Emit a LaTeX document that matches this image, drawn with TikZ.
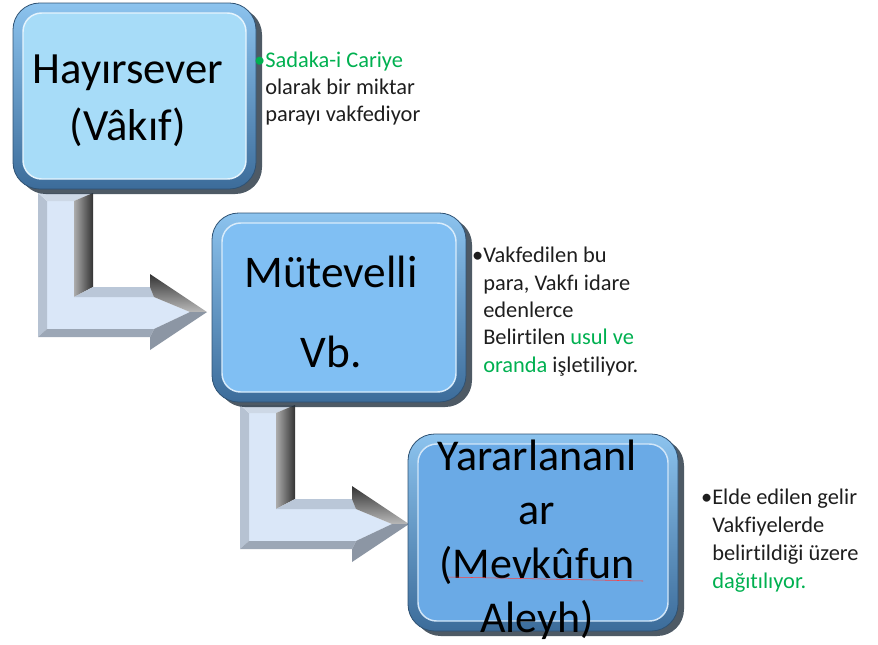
\documentclass[tikz,border=0pt]{standalone}
\usepackage{fontspec}
\setmainfont{Carlito}[Ligatures=NoCommon]
\usepackage{xcolor}
\usetikzlibrary{positioning}

\definecolor{notegreen}{HTML}{00B050}
\definecolor{notetext}{HTML}{1E1E1E}
\definecolor{shadowc}{HTML}{22313F}
\definecolor{rimtop}{HTML}{8CC3EE}
\definecolor{rimbot}{HTML}{3C6C9A}
\definecolor{rimline}{HTML}{2F5273}
\definecolor{faceA}{HTML}{A7DCF8}
\definecolor{faceB}{HTML}{80BFF3}
\definecolor{faceC}{HTML}{6AAAE6}
\definecolor{arrface}{HTML}{DAE7F8}
\definecolor{arrleft}{HTML}{B6C2D2}
\definecolor{arrtop}{HTML}{CDD8E6}
\definecolor{arrarm}{HTML}{BAC7D8}
\definecolor{arrlow}{HTML}{8C96A4}
\definecolor{arrbot}{HTML}{9CA7B6}

% one bevelled box: face colour, corner, corner
\newcommand\bevelbox[5]{%
  \fill[boxshadow] (#2+6,#3+5) rectangle (#4+6,#5+5);
  \shade[boxrim] (#2,#3) rectangle (#4,#5);
  \draw[boxface=#1] (#2+10,#3+10) rectangle (#4-10,#5-10);
}
% one bent arrow, top left corner of the stem at (#1,#2)
\newcommand\bentarrow[2]{%
  \begin{scope}[shift={(#1,#2)}]
    \fill[arrface] (9,8) -- (36,8) -- (36,104) -- (116,104) -- (152,119) -- (116,136) -- (9,136) -- cycle;
    \fill[arrleft] (0,0) -- (9,8) -- (9,136) -- (0,144) -- cycle;
    \fill[arrtop] (0,0) -- (55,0) -- (36,8) -- (9,8) -- cycle;
    \shade[left color=gray!65, right color=black!80] (55,0) -- (55,94) -- (36,104) -- (36,8) -- cycle;
    \fill[arrarm] (55,94) -- (112,94) -- (116,104) -- (36,104) -- cycle;
    \shade[top color=black!80, bottom color=gray!55] (112,94) -- (112,81) -- (169,119) -- (152,119) -- (116,104) -- cycle;
    \fill[arrlow] (169,119) -- (112,157) -- (112,144) -- (116,136) -- (152,119) -- cycle;
    \fill[arrbot] (112,144) -- (0,144) -- (9,136) -- (116,136) -- cycle;
  \end{scope}
}

\begin{document}
\begin{tikzpicture}[x=0.75pt, y=-0.75pt,
  boxshadow/.style={fill=shadowc, opacity=.8, rounded corners=20},
  boxrim/.style={top color=rimtop, bottom color=rimbot, draw=rimline, line width=.6pt, rounded corners=20},
  boxface/.style={fill=#1, draw=white!70!#1, line width=1.1pt, rounded corners=14},
  boxtext/.style={align=center, text=black, inner sep=0pt},
  note/.style={align=left, anchor=north west, inner sep=0pt, text=notetext,
               font=\fontsize{16.8}{20}\selectfont}]
  \useasboundingbox (0,0) rectangle (878,644);

  % connectors
  \bentarrow{38}{193}
  \bentarrow{240}{405}

  % boxes
  \bevelbox{faceA}{13}{3}{256}{189}
  \bevelbox{faceB}{212}{213}{466}{402}
  \bevelbox{faceC}{408}{434}{678}{631}

  \node[boxtext, font=\fontsize{33.5}{42.75}\selectfont] (hayir) at (128,101) {Hayırsever\\(Vâkıf)};
  \node[boxtext, font=\fontsize{34}{60}\selectfont] (mutevelli) at (331,312) {Mütevelli\\Vb.};
  \node[boxtext, font=\fontsize{33}{40.5}\selectfont] (yarar) at (537,540) {Yararlananl\\ar\\(Mevkûfun\\Aleyh)};
  \draw[red!75, line width=.4pt] (448,577) -- (643,581);

  % notes beside the boxes
  \node[note] (note1) at (265,52)
    {\llap{\textcolor{notegreen}{\textbullet}}\textcolor{notegreen}{Sadaka-i Cariye}\\olarak bir miktar\\parayı vakfediyor};
  \node[note, font=\fontsize{16.8}{20.5}\selectfont] (note2) at (483,247)
    {\llap{\textbullet}Vakfedilen bu\\para, Vakfı idare\\edenlerce\\Belirtilen \textcolor{notegreen}{usul ve}\\\textcolor{notegreen}{oranda} işletiliyor.};
  \node[note, font=\fontsize{16.8}{21}\selectfont] (note3) at (712,489)
    {\llap{\textbullet}Elde edilen gelir\\Vakfiyelerde\\belirtildiği üzere\\\textcolor{notegreen}{dağıtılıyor.}};
\end{tikzpicture}
\end{document}
